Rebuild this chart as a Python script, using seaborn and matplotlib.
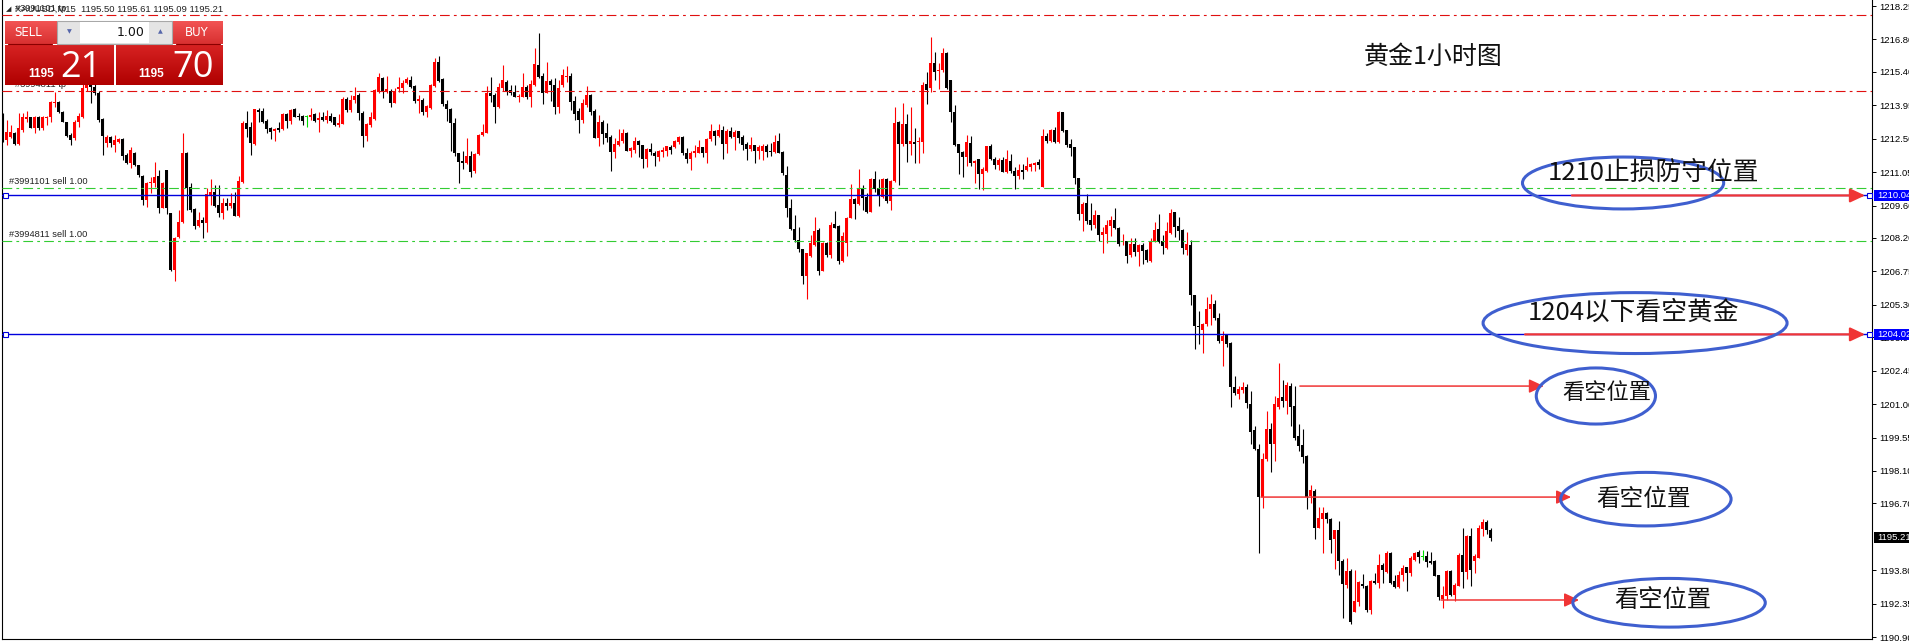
import matplotlib
matplotlib.use("Agg")
import matplotlib.pyplot as plt
import matplotlib.transforms as mtransforms
from matplotlib.patches import Ellipse, Rectangle
from matplotlib.colors import LinearSegmentedColormap
import numpy as np
import pandas as pd
import seaborn as sns

# XAUUSD M15 candles
opens = [
    1213.53, 1212.44, 1212.59, 1212.76, 1212.26, 1212.88, 1213.34, 1213.43, 1212.95, 1213.45,
    1212.95, 1213.38, 1213.45, 1214.06, 1214.10, 1213.67, 1213.21, 1212.66, 1212.52, 1213.24,
    1213.43, 1214.68, 1215.10, 1214.75, 1214.47, 1213.34, 1212.30, 1212.59, 1212.23, 1212.37,
    1212.49, 1211.79, 1211.43, 1211.87, 1211.34, 1210.90, 1209.84, 1210.56, 1210.59, 1210.90,
    1209.51, 1211.14, 1209.26, 1206.81, 1208.25, 1208.90, 1211.87, 1210.42, 1209.45, 1208.73,
    1208.98, 1208.83, 1210.06, 1210.17, 1209.62, 1209.29, 1209.73, 1209.58, 1209.73, 1209.16,
    1210.64, 1213.19, 1212.99, 1212.27, 1213.74, 1213.71, 1213.27, 1212.95, 1212.83, 1212.95,
    1212.92, 1213.57, 1213.28, 1213.79, 1213.48, 1213.48, 1213.42, 1213.42, 1213.57, 1213.31,
    1213.42, 1213.31, 1213.48, 1213.42, 1213.09, 1213.14, 1214.22, 1213.74, 1214.18, 1214.39,
    1213.63, 1212.62, 1213.09, 1213.35, 1214.53, 1215.14, 1214.56, 1214.56, 1214.06, 1214.64,
    1214.71, 1214.92, 1215.04, 1214.78, 1214.14, 1214.17, 1213.67, 1213.81, 1214.79, 1215.83,
    1215.07, 1214.00, 1213.77, 1213.16, 1211.86, 1211.53, 1211.46, 1211.75, 1211.10, 1211.83,
    1212.66, 1212.76, 1214.46, 1214.39, 1213.88, 1214.68, 1214.94, 1214.61, 1214.53, 1214.29,
    1214.32, 1214.72, 1214.32, 1214.82, 1215.69, 1215.21, 1214.49, 1215.01, 1214.82, 1213.88,
    1214.82, 1215.18, 1215.21, 1214.13, 1213.71, 1213.31, 1213.96, 1214.39, 1213.71, 1212.54,
    1213.23, 1212.73, 1212.58, 1211.93, 1212.22, 1212.41, 1212.76, 1211.98, 1212.01, 1212.41,
    1212.22, 1211.60, 1212.05, 1211.89, 1211.72, 1211.93, 1211.96, 1212.15, 1212.15, 1212.37,
    1212.58, 1211.90, 1211.64, 1211.89, 1211.90, 1212.12, 1211.86, 1212.47, 1212.83, 1212.63,
    1212.87, 1212.27, 1212.83, 1212.58, 1212.83, 1212.58, 1212.25, 1212.05, 1212.22, 1211.96,
    1211.96, 1212.18, 1211.96, 1211.93, 1212.40, 1211.93, 1210.92, 1209.48, 1208.58, 1208.13,
    1207.72, 1206.56, 1207.41, 1207.89, 1208.54, 1206.78, 1207.99, 1207.46, 1208.80, 1208.71,
    1207.20, 1208.00, 1209.07, 1209.88, 1209.67, 1210.32, 1209.98, 1209.33, 1210.75, 1210.37,
    1209.98, 1210.75, 1209.81, 1210.66, 1213.23, 1212.27, 1213.13, 1212.25, 1212.37, 1212.37,
    1212.37, 1214.87, 1214.71, 1215.79, 1215.43, 1215.47, 1216.20, 1215.04, 1213.67, 1212.27,
    1211.93, 1211.72, 1212.32, 1211.46, 1211.60, 1210.99, 1211.11, 1212.18, 1211.62, 1211.36,
    1211.57, 1211.05, 1211.53, 1211.10, 1210.89, 1211.14, 1211.14, 1211.28, 1211.36, 1211.49,
    1210.42, 1212.61, 1212.41, 1212.87, 1212.37, 1213.64, 1212.87, 1212.27, 1212.12, 1210.78,
    1209.22, 1209.72, 1208.97, 1208.76, 1209.19, 1208.32, 1208.39, 1208.73, 1208.97, 1208.64,
    1208.03, 1208.06, 1207.46, 1207.92, 1207.57, 1207.89, 1207.67, 1207.21, 1208.08, 1208.57,
    1208.06, 1207.77, 1208.42, 1209.32, 1208.71, 1208.54, 1207.67, 1207.89, 1205.72, 1204.39,
    1204.21, 1204.47, 1205.14, 1205.33, 1204.75, 1203.73, 1203.99, 1203.63, 1201.75, 1201.43,
    1201.60, 1201.75, 1201.00, 1199.87, 1199.05, 1196.98, 1198.62, 1199.91, 1199.25, 1200.88,
    1201.32, 1201.14, 1201.78, 1200.91, 1199.61, 1199.22, 1198.74, 1197.01, 1197.23, 1195.64,
    1196.04, 1196.29, 1196.04, 1195.14, 1195.54, 1194.21, 1193.15, 1193.77, 1192.00, 1192.43,
    1193.22, 1193.11, 1192.07, 1193.34, 1193.25, 1194.02, 1193.73, 1194.55, 1193.34, 1193.08,
    1193.58, 1193.92, 1193.66, 1194.24, 1194.57, 1194.38, 1194.41, 1194.21, 1194.21, 1193.58,
    1192.54, 1192.69, 1193.77, 1192.72, 1193.12, 1194.45, 1193.73, 1195.28, 1194.21, 1194.35,
    1195.58, 1195.87, 1195.54,
]
highs = [
    1213.60, 1213.31, 1213.09, 1212.80, 1213.60, 1213.60, 1213.70, 1213.45, 1213.48, 1213.48,
    1213.48, 1213.48, 1214.13, 1214.54, 1214.13, 1213.70, 1213.24, 1212.73, 1213.31, 1213.60,
    1215.20, 1215.35, 1215.30, 1214.90, 1214.55, 1213.38, 1212.66, 1212.62, 1212.66, 1212.55,
    1212.52, 1211.87, 1212.12, 1211.94, 1211.36, 1210.93, 1210.64, 1210.85, 1211.50, 1211.14,
    1210.64, 1211.16, 1209.30, 1208.25, 1209.41, 1212.76, 1211.94, 1210.56, 1209.48, 1209.34,
    1209.12, 1210.35, 1210.75, 1210.49, 1210.49, 1209.91, 1209.91, 1210.13, 1210.20, 1210.88,
    1213.28, 1213.71, 1213.24, 1213.79, 1213.81, 1213.81, 1213.34, 1212.99, 1212.95, 1213.24,
    1213.60, 1213.60, 1213.77, 1213.81, 1213.60, 1213.53, 1213.53, 1213.81, 1213.60, 1213.67,
    1213.67, 1213.74, 1213.60, 1213.45, 1213.57, 1214.32, 1214.32, 1214.39, 1214.72, 1214.46,
    1213.70, 1213.19, 1213.67, 1214.65, 1215.36, 1215.18, 1215.21, 1214.64, 1214.68, 1215.16,
    1215.04, 1215.18, 1215.21, 1214.82, 1214.39, 1214.25, 1213.95, 1214.85, 1215.98, 1216.08,
    1215.11, 1214.17, 1213.81, 1213.38, 1211.89, 1211.96, 1212.54, 1211.96, 1211.86, 1212.70,
    1213.13, 1214.78, 1215.16, 1214.46, 1214.90, 1215.69, 1215.04, 1214.82, 1214.82, 1214.43,
    1215.36, 1214.82, 1215.04, 1216.44, 1217.09, 1215.33, 1215.83, 1215.07, 1215.11, 1215.04,
    1215.50, 1215.65, 1215.33, 1214.35, 1213.81, 1214.20, 1214.78, 1214.43, 1213.77, 1213.52,
    1213.33, 1213.16, 1212.66, 1212.55, 1212.94, 1212.94, 1212.78, 1212.15, 1212.58, 1212.43,
    1212.24, 1212.08, 1212.32, 1211.96, 1212.01, 1212.15, 1212.20, 1212.22, 1212.44, 1212.61,
    1212.60, 1212.11, 1211.98, 1212.22, 1212.44, 1212.15, 1212.51, 1213.13, 1212.87, 1213.13,
    1213.05, 1212.94, 1212.99, 1212.87, 1212.85, 1212.66, 1212.37, 1212.58, 1212.24, 1212.22,
    1212.27, 1212.25, 1212.30, 1212.66, 1212.76, 1211.95, 1211.31, 1209.87, 1209.19, 1208.68,
    1207.74, 1207.56, 1208.32, 1209.12, 1208.64, 1208.03, 1208.03, 1208.90, 1209.36, 1208.78,
    1208.47, 1209.09, 1210.53, 1209.95, 1211.17, 1210.49, 1210.16, 1210.81, 1211.11, 1210.75,
    1210.78, 1210.78, 1210.73, 1213.88, 1213.25, 1214.03, 1213.55, 1213.88, 1212.95, 1212.58,
    1214.97, 1215.40, 1216.92, 1216.27, 1215.76, 1216.41, 1216.24, 1215.05, 1213.96, 1212.29,
    1211.95, 1212.68, 1212.61, 1211.56, 1211.62, 1211.28, 1212.20, 1212.27, 1211.72, 1211.67,
    1211.69, 1212.01, 1211.83, 1211.28, 1211.40, 1211.39, 1211.72, 1211.43, 1211.50, 1211.60,
    1212.92, 1212.76, 1212.94, 1212.99, 1213.71, 1213.66, 1212.89, 1212.47, 1212.14, 1210.80,
    1209.77, 1210.10, 1209.72, 1209.43, 1209.21, 1208.68, 1208.97, 1209.15, 1209.48, 1208.66,
    1208.39, 1208.08, 1208.18, 1208.18, 1207.93, 1207.96, 1207.70, 1208.18, 1208.90, 1209.23,
    1208.32, 1208.90, 1209.45, 1209.33, 1209.09, 1208.57, 1208.44, 1208.13, 1205.74, 1205.03,
    1204.52, 1205.65, 1205.79, 1205.51, 1204.93, 1204.16, 1204.03, 1203.70, 1202.21, 1201.78,
    1201.94, 1201.89, 1201.58, 1200.04, 1199.27, 1198.89, 1200.69, 1200.16, 1201.34, 1202.79,
    1202.04, 1201.97, 1201.92, 1201.78, 1200.13, 1199.90, 1198.79, 1197.49, 1197.31, 1196.55,
    1196.52, 1196.33, 1196.06, 1195.56, 1195.93, 1194.28, 1194.31, 1193.87, 1193.80, 1193.32,
    1193.63, 1193.18, 1193.37, 1193.69, 1194.50, 1194.12, 1194.63, 1194.57, 1193.58, 1193.76,
    1194.02, 1193.95, 1194.41, 1194.60, 1194.67, 1194.67, 1194.64, 1194.60, 1194.23, 1193.61,
    1193.11, 1193.80, 1193.83, 1193.25, 1194.55, 1195.61, 1195.32, 1195.65, 1194.52, 1195.75,
    1196.04, 1195.97, 1195.61,
]
lows = [
    1212.37, 1212.23, 1212.52, 1212.23, 1212.23, 1212.80, 1213.24, 1212.95, 1212.73, 1212.88,
    1212.88, 1213.09, 1213.24, 1213.89, 1213.60, 1213.21, 1212.59, 1212.23, 1212.44, 1213.02,
    1213.38, 1214.55, 1214.06, 1214.40, 1213.24, 1211.79, 1212.15, 1212.12, 1211.94, 1212.30,
    1211.58, 1211.40, 1211.21, 1211.30, 1210.83, 1209.63, 1209.55, 1210.13, 1210.42, 1209.26,
    1209.48, 1209.24, 1206.75, 1206.35, 1208.18, 1208.83, 1209.41, 1209.34, 1208.59, 1208.69,
    1208.18, 1208.47, 1209.62, 1209.55, 1209.09, 1209.00, 1209.41, 1209.48, 1209.14, 1209.12,
    1210.56, 1212.59, 1211.79, 1212.23, 1213.24, 1213.19, 1212.73, 1212.49, 1212.41, 1212.80,
    1212.88, 1212.95, 1213.14, 1213.42, 1213.31, 1213.09, 1212.99, 1213.31, 1213.24, 1212.80,
    1213.27, 1213.16, 1213.24, 1213.07, 1213.02, 1213.12, 1213.67, 1213.67, 1214.06, 1213.31,
    1212.12, 1212.41, 1213.02, 1213.33, 1214.46, 1214.27, 1214.50, 1213.88, 1214.03, 1214.53,
    1214.49, 1214.88, 1214.68, 1214.03, 1213.60, 1213.52, 1213.45, 1213.77, 1214.75, 1214.94,
    1213.91, 1213.26, 1211.98, 1211.75, 1210.59, 1211.18, 1211.40, 1210.85, 1211.02, 1211.80,
    1212.61, 1212.73, 1214.10, 1213.19, 1213.81, 1214.58, 1214.39, 1214.39, 1214.29, 1214.10,
    1214.29, 1214.23, 1213.88, 1214.80, 1215.12, 1214.00, 1214.46, 1214.14, 1213.57, 1213.62,
    1214.75, 1214.97, 1213.74, 1213.33, 1212.76, 1213.19, 1213.88, 1213.52, 1212.51, 1212.18,
    1212.29, 1212.37, 1211.11, 1211.67, 1212.18, 1212.32, 1211.96, 1211.72, 1211.86, 1211.72,
    1211.24, 1211.28, 1211.79, 1211.33, 1211.54, 1211.72, 1211.75, 1211.83, 1212.08, 1212.29,
    1211.79, 1211.46, 1211.14, 1211.72, 1211.86, 1211.72, 1211.46, 1212.41, 1212.22, 1212.58,
    1211.64, 1211.90, 1212.51, 1212.01, 1212.32, 1212.01, 1211.57, 1211.98, 1211.43, 1211.62,
    1211.57, 1211.69, 1211.75, 1211.89, 1211.86, 1210.92, 1209.12, 1208.55, 1208.03, 1207.60,
    1206.20, 1205.55, 1207.38, 1207.87, 1206.59, 1206.76, 1207.38, 1207.31, 1208.61, 1207.05,
    1207.17, 1207.41, 1209.05, 1209.02, 1209.62, 1209.43, 1209.26, 1209.31, 1210.20, 1209.58,
    1209.91, 1209.72, 1209.41, 1210.64, 1210.49, 1212.18, 1211.50, 1211.79, 1211.43, 1211.43,
    1211.89, 1214.00, 1214.53, 1215.04, 1214.64, 1215.40, 1214.66, 1213.23, 1212.20, 1210.97,
    1210.85, 1211.33, 1211.31, 1210.56, 1210.34, 1210.27, 1211.07, 1211.57, 1211.18, 1211.14,
    1211.04, 1211.02, 1211.02, 1210.34, 1210.75, 1210.75, 1211.11, 1211.11, 1211.11, 1211.17,
    1210.40, 1212.32, 1212.37, 1212.32, 1212.32, 1212.80, 1212.15, 1211.75, 1210.53, 1208.97,
    1208.51, 1208.80, 1208.54, 1208.61, 1208.08, 1207.56, 1207.99, 1208.28, 1208.57, 1207.86,
    1207.89, 1207.12, 1207.36, 1207.43, 1206.98, 1207.07, 1207.17, 1207.17, 1208.03, 1207.99,
    1207.50, 1207.72, 1208.39, 1208.25, 1208.13, 1207.50, 1207.46, 1205.29, 1203.38, 1203.60,
    1203.22, 1204.39, 1204.42, 1204.64, 1203.66, 1202.65, 1203.48, 1200.88, 1201.39, 1201.20,
    1201.49, 1200.85, 1199.27, 1199.00, 1194.53, 1196.51, 1198.54, 1198.07, 1198.54, 1200.77,
    1200.88, 1200.56, 1200.04, 1199.44, 1198.98, 1198.45, 1196.47, 1196.72, 1195.14, 1195.61,
    1194.55, 1195.85, 1194.55, 1193.85, 1193.58, 1191.71, 1193.05, 1191.46, 1191.98, 1192.24,
    1193.05, 1192.00, 1191.89, 1193.22, 1193.04, 1193.25, 1193.70, 1193.22, 1193.05, 1193.05,
    1193.34, 1192.91, 1193.54, 1194.21, 1194.12, 1194.24, 1193.95, 1194.09, 1193.54, 1192.50,
    1192.18, 1192.50, 1192.67, 1192.47, 1193.11, 1193.05, 1193.41, 1193.12, 1193.66, 1194.31,
    1195.28, 1195.36, 1195.07,
]
closes = [
    1212.44, 1212.80, 1212.80, 1212.26, 1212.95, 1213.45, 1213.45, 1212.98, 1213.45, 1212.95,
    1213.45, 1213.45, 1214.10, 1214.10, 1213.67, 1213.24, 1212.62, 1212.44, 1213.24, 1213.48,
    1214.68, 1215.10, 1214.75, 1214.47, 1213.31, 1212.62, 1212.59, 1212.30, 1212.44, 1212.47,
    1211.76, 1211.43, 1212.01, 1211.34, 1210.93, 1209.84, 1210.59, 1210.64, 1210.85, 1209.51,
    1210.56, 1209.48, 1206.81, 1208.18, 1208.90, 1211.87, 1210.35, 1209.41, 1208.73, 1208.98,
    1208.83, 1210.10, 1210.20, 1209.60, 1209.29, 1209.70, 1209.58, 1209.73, 1209.16, 1210.67,
    1213.19, 1212.90, 1212.33, 1213.77, 1213.67, 1213.24, 1212.92, 1212.80, 1212.90, 1212.88,
    1213.57, 1213.28, 1213.74, 1213.45, 1213.42, 1213.28, 1213.42, 1213.53, 1213.28, 1213.40,
    1213.31, 1213.48, 1213.28, 1213.09, 1213.19, 1214.22, 1213.74, 1214.18, 1214.35, 1213.63,
    1212.62, 1213.14, 1213.42, 1214.61, 1215.16, 1214.53, 1214.64, 1214.06, 1214.56, 1214.75,
    1214.90, 1215.07, 1214.75, 1214.14, 1214.22, 1213.67, 1213.91, 1214.82, 1215.83, 1215.00,
    1214.00, 1213.77, 1213.16, 1211.86, 1211.50, 1211.46, 1211.75, 1211.07, 1211.83, 1212.68,
    1212.77, 1214.49, 1214.35, 1213.88, 1214.75, 1215.04, 1214.56, 1214.49, 1214.32, 1214.35,
    1214.72, 1214.29, 1214.87, 1215.73, 1215.16, 1214.49, 1215.01, 1214.82, 1213.88, 1214.68,
    1215.26, 1215.21, 1214.10, 1213.57, 1213.31, 1214.06, 1214.39, 1213.67, 1212.54, 1213.23,
    1212.70, 1212.54, 1211.93, 1212.27, 1212.41, 1212.76, 1211.98, 1212.08, 1212.41, 1212.22,
    1211.60, 1212.05, 1211.93, 1211.75, 1211.96, 1212.01, 1212.18, 1212.01, 1212.40, 1212.58,
    1211.89, 1211.60, 1211.89, 1211.98, 1212.15, 1211.89, 1212.48, 1212.83, 1212.61, 1212.87,
    1212.27, 1212.83, 1212.58, 1212.77, 1212.55, 1212.22, 1212.05, 1212.22, 1211.96, 1212.15,
    1212.18, 1211.93, 1211.93, 1212.37, 1211.89, 1211.02, 1209.48, 1208.58, 1208.11, 1207.74,
    1206.56, 1207.53, 1207.99, 1208.50, 1206.78, 1207.99, 1207.46, 1208.76, 1208.64, 1207.20,
    1208.28, 1209.07, 1209.88, 1209.67, 1210.34, 1209.94, 1209.33, 1210.75, 1210.34, 1210.03,
    1210.75, 1209.81, 1210.66, 1213.19, 1212.27, 1213.13, 1212.27, 1212.40, 1212.25, 1212.40,
    1214.82, 1214.61, 1215.79, 1215.40, 1215.47, 1216.22, 1214.68, 1213.67, 1212.22, 1211.89,
    1211.72, 1212.37, 1211.43, 1211.54, 1210.97, 1211.17, 1212.18, 1211.62, 1211.36, 1211.57,
    1211.07, 1211.60, 1211.10, 1210.89, 1211.14, 1211.07, 1211.31, 1211.40, 1211.43, 1211.36,
    1212.61, 1212.41, 1212.87, 1212.37, 1213.67, 1212.84, 1212.22, 1212.11, 1210.78, 1209.22,
    1209.69, 1208.94, 1208.76, 1209.19, 1208.32, 1208.44, 1208.76, 1208.97, 1208.61, 1207.92,
    1208.06, 1207.43, 1207.92, 1207.57, 1207.89, 1207.63, 1207.24, 1208.06, 1208.54, 1208.03,
    1207.85, 1208.50, 1209.29, 1208.68, 1208.51, 1207.77, 1207.92, 1205.72, 1204.39, 1204.35,
    1204.49, 1205.14, 1205.33, 1204.75, 1203.73, 1203.95, 1203.60, 1201.75, 1201.46, 1201.65,
    1201.75, 1201.03, 1199.80, 1199.05, 1196.98, 1198.62, 1199.91, 1199.25, 1201.00, 1201.27,
    1201.14, 1201.82, 1200.88, 1199.54, 1199.19, 1198.71, 1196.98, 1197.27, 1195.64, 1196.07,
    1196.29, 1196.01, 1195.10, 1195.54, 1194.21, 1193.19, 1193.77, 1191.56, 1192.47, 1193.30,
    1193.11, 1192.07, 1193.34, 1193.25, 1194.02, 1193.83, 1194.55, 1193.25, 1193.08, 1193.58,
    1193.90, 1193.66, 1194.31, 1194.55, 1194.38, 1194.38, 1194.16, 1194.12, 1193.56, 1192.65,
    1192.72, 1193.77, 1192.72, 1193.15, 1194.45, 1193.73, 1195.28, 1193.80, 1194.41, 1195.61,
    1195.90, 1195.56, 1195.21,
]

price_ticks = [1218.25, 1216.80, 1215.40, 1213.95, 1212.50, 1211.05, 1209.60, 1208.20, 1206.75,
               1205.30, 1203.90, 1202.45, 1201.00, 1199.55, 1198.10, 1196.70, 1193.80, 1192.35,
               1190.90]
tp_levels = [1217.86, 1214.57]
tp_labels = ["#3991101 tp", "#3994811 tp"]
sell_levels = [1210.36, 1208.07]
sell_labels = ["#3991101 sell 1.00", "#3994811 sell 1.00"]
stop_level = 1210.04
short_level = 1204.02
last_price = 1195.21
target_levels = [1201.78, 1196.97, 1192.51]
header = "XAUUSD,M15  1195.50 1195.61 1195.09 1195.21"
bid_big, ask_big = "21", "70"

W, H = 1909, 641
sns.set_theme(style="white")
plt.rcParams["font.family"] = ["Noto Sans CJK SC", "DejaVu Sans"]
plt.rcParams["lines.scale_dashes"] = False

df = pd.DataFrame({"open": opens, "high": highs, "low": lows, "close": closes})
df["x"] = np.arange(len(df))
df["color"] = np.where(df["close"] > df["open"], "#ff0000",
                       np.where(df["close"] < df["open"], "#000000", "#00dd00"))

fig = plt.figure(figsize=(W / 100, H / 100), dpi=100)
ax = fig.add_axes([2 / W, 2 / H, 1870 / W, 639 / H])
ax.set_xlim(-0.17, 467.33)
ax.set_ylim(1190.82, 1218.51)

# candles
ax.vlines(df["x"], df["low"], df["high"], colors=df["color"], lw=0.8, zorder=2)
body_lo = df[["open", "close"]].min(axis=1)
body_h = (df["close"] - df["open"]).abs().clip(lower=0.045)
ax.bar(df["x"], body_h, bottom=body_lo, width=0.7, color=df["color"], linewidth=0, zorder=2)

# order lines
dashdot = (0, (7, 3, 2, 3))
for lvl, lab in zip(tp_levels, tp_labels):
    ax.axhline(lvl, color="#e01010", lw=0.8, ls=dashdot, zorder=3)
    ax.annotate(lab, xy=(3.2, lvl), xytext=(0, 1.5), textcoords="offset points",
                fontsize=6.7, family="Liberation Sans", color="#222222", va="bottom")
for lvl, lab in zip(sell_levels, sell_labels):
    ax.axhline(lvl, color="#33cc33", lw=0.8, ls=dashdot, zorder=3)
    ax.annotate(lab, xy=(1.5, lvl), xytext=(0, 1.5), textcoords="offset points",
                fontsize=6.7, family="Liberation Sans", color="#222222", va="bottom")
for lvl in [stop_level, short_level]:
    ax.axhline(lvl, color="#0000dd", lw=1.0, zorder=3)
    ax.plot([0.46, 466.6], [lvl, lvl], ls="none", marker="s", ms=3.6, mfc="white",
            mec="#0000dd", mew=0.8, clip_on=False, zorder=4)

# red arrows
arrow_red = "#f03535"
arrows = [(392.3, 465.6, stop_level, 1.6), (380.6, 465.6, short_level, 1.6),
          (324.3, 385.3, target_levels[0], 1.1), (314.6, 392.1, target_levels[1], 1.1),
          (359.6, 394.1, target_levels[2], 1.1)]
for x0, x1, lvl, lw in arrows:
    ax.annotate("", xy=(x1, lvl), xytext=(x0, lvl), annotation_clip=False,
                arrowprops=dict(arrowstyle="-|>,head_length=0.75,head_width=0.35",
                                color=arrow_red, lw=lw, shrinkA=0, shrinkB=0), zorder=4)

# ellipses and notes
blue_ring = "#3f5fcf"
rings = [(405.1, 1210.58, 50.3, 2.25), (408.1, 1204.51, 76.0, 2.64), (398.3, 1201.35, 29.8, 2.43),
         (410.8, 1196.88, 42.6, 2.32), (416.6, 1192.39, 48.1, 2.11)]
for xc, yc, w, h in rings:
    ax.add_patch(Ellipse((xc, yc), w, h, fill=False, ec=blue_ring, lw=2.2, zorder=5))

notes = [(412.6, 1211.01, "1210止损防守位置", 18.5), (407.6, 1204.95, "1204以下看空黄金", 18.5),
         (401.1, 1201.52, "看空位置", 16), (410.1, 1196.88, "看空位置", 17),
         (415.1, 1192.51, "看空位置", 17.5), (357.6, 1216.04, "黄金1小时图", 18)]
for xc, yc, s, fs in notes:
    ax.text(xc, yc, s, fontsize=fs, ha="center", va="center", color="#111111", zorder=6)

# axis
for side in ["left", "bottom", "right"]:
    ax.spines[side].set_color("black")
    ax.spines[side].set_linewidth(0.8)
ax.spines["top"].set_visible(False)
ax.set_xticks([])
ax.yaxis.tick_right()
ax.set_yticks(price_ticks)
ax.set_yticklabels([f"{t:.2f}" for t in price_ticks], family="Liberation Sans")
ax.tick_params(axis="y", which="both", right=True, left=False, direction="out", length=3,
               width=0.7, pad=2.5, labelsize=6.8, colors="black")

# price boxes on the scale
trans = mtransforms.blended_transform_factory(fig.transFigure, ax.transData)
for lvl, face in [(stop_level, "#0000ff"), (short_level, "#0000ff"), (last_price, "#000000")]:
    fig.add_artist(Rectangle((1874 / W, lvl - 0.25), 0.02, 0.5, transform=trans,
                             facecolor=face, edgecolor="none"))
    fig.text(1877 / W, lvl, f"{lvl:.2f}", transform=trans, color="white", va="center",
             fontsize=6.8, family="Liberation Sans")


# one-click trade panel
def fbox(x0, y0, x1, y1):
    return [x0 / W, 1 - y1 / H, (x1 - x0) / W, (y1 - y0) / H]


def gradient(x0, y0, x1, y1, top, bottom):
    g = fig.add_axes(fbox(x0, y0, x1, y1))
    cmap = LinearSegmentedColormap.from_list("g", [top, bottom])
    g.imshow(np.linspace(0, 1, 64)[:, None], aspect="auto", cmap=cmap, extent=(0, 1, 0, 1))
    g.axis("off")
    return g


def ftext(x, y, s, **kw):
    fig.text(x / W, 1 - y / H, s, **kw)


gradient(5, 21, 113, 44, "#f25454", "#d83030")
gradient(5, 45, 113, 85, "#d62222", "#b00000")
gradient(116, 21, 223, 44, "#f25454", "#d83030")
gradient(116, 45, 223, 85, "#d62222", "#b00000")
fig.add_artist(Rectangle((57 / W, 1 - 44 / H), 115 / W, 23 / H, transform=fig.transFigure,
                         facecolor="#e4e4e4", edgecolor="#a8a8a8", lw=0.8))
gradient(58, 22, 79, 43, "#f6f6fa", "#d4d4dc")
gradient(150, 22, 171, 43, "#f6f6fa", "#d4d4dc")
fig.add_artist(Rectangle((80 / W, 1 - 43 / H), 69 / W, 21 / H, transform=fig.transFigure,
                         facecolor="white", edgecolor="none"))
for xa, xb in [(8, 52), (176, 220)]:
    fig.add_artist(plt.Line2D([xa / W, xb / W], [1 - 44 / H, 1 - 44 / H],
                              transform=fig.transFigure, color="#8a0000", lw=0.8))

ftext(28, 32, "SELL", color="white", fontsize=8.5, ha="center", va="center", family="DejaVu Sans")
ftext(197, 32, "BUY", color="white", fontsize=8.5, ha="center", va="center", family="DejaVu Sans")
ftext(145, 32, "1.00", color="#111111", fontsize=9, ha="right", va="center", family="DejaVu Sans")
ftext(69, 32, "▼", color="#5566aa", fontsize=4.5, ha="center", va="center", family="DejaVu Sans")
ftext(160, 32, "▲", color="#5566aa", fontsize=4.5, ha="center", va="center", family="DejaVu Sans")
ftext(28, 77, "1195", color="white", fontsize=8.5, fontweight="bold", ha="left", va="baseline",
      family="Liberation Sans")
ftext(138, 77, "1195", color="white", fontsize=8.5, fontweight="bold", ha="left", va="baseline",
      family="Liberation Sans")
ftext(60, 77, bid_big, color="white", fontsize=26, ha="left", va="baseline", family="Open Sans")
ftext(172, 77, ask_big, color="white", fontsize=26, ha="left", va="baseline", family="Open Sans")

# symbol header
ftext(6, 9, "◢", color="#222222", fontsize=5, va="center", family="DejaVu Sans")
ftext(15, 9, header, color="#222222", fontsize=6.8, va="center", family="Liberation Sans")

fig.savefig("out.png", dpi=100)
